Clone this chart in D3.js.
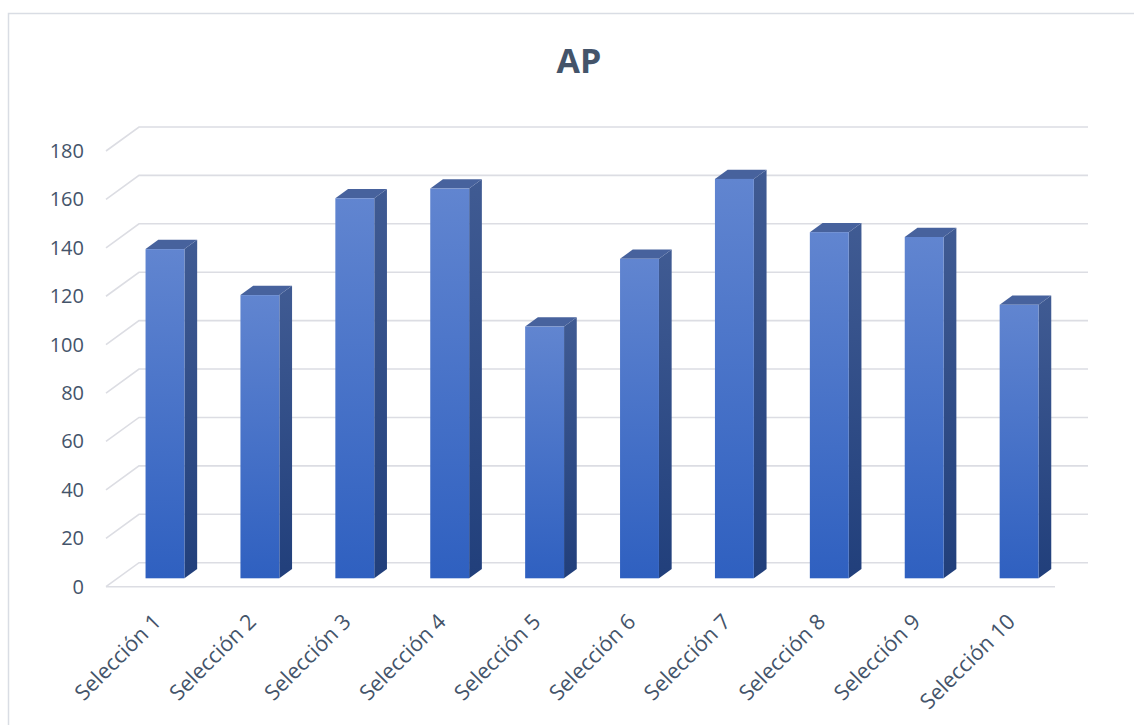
<!DOCTYPE html>
<html>
<head>
<meta charset="utf-8">
<script src="https://cdn.jsdelivr.net/npm/d3@7"></script>
<style>
	body { margin: 0; background: #fff; }
	svg { display: block; }
	text { font-family: "Open Sans", "Noto Sans", sans-serif; fill: #44546a; }
</style>
</head>
<body>
<svg id="chart" width="1134" height="725"></svg>
<script>
const categories = ["Selección 1", "Selección 2", "Selección 3", "Selección 4", "Selección 5",
	"Selección 6", "Selección 7", "Selección 8", "Selección 9", "Selección 10"];
const values = [136, 117, 157, 161, 104, 132, 165, 143, 141, 113];
const yTicks = [0, 20, 40, 60, 80, 100, 120, 140, 160, 180];
const chartTitle = "AP";

const svg = d3.select("#chart");

// depth of the floor (oblique projection)
const DX = 33, DY = -24;
// where the bars sit in the depth
const f0 = 0.35, f1 = 0.735;

const x = d3.scaleBand()
	.domain(categories)
	.range([106, 1055])
	.paddingInner(0.59)
	.paddingOuter(0.295);

const y = d3.scaleLinear()
	.domain([0, 180])
	.range([586.7, 151]);

// outer frame
svg.append("rect")
	.attr("x", 8.5).attr("y", 13.5)
	.attr("width", 1140).attr("height", 730)
	.attr("fill", "none")
	.attr("stroke", "#d9dde4")
	.attr("stroke-width", 1.5);

// title
svg.append("text")
	.attr("x", 579).attr("y", 73)
	.attr("text-anchor", "middle")
	.style("font-size", "34px")
	.style("font-weight", "bold")
	.text(chartTitle);

// gridlines: side diagonal + back wall
const grid = svg.append("g").attr("class", "grid");
const x0 = x.range()[0], x1 = x.range()[1];
yTicks.forEach(t => {
	grid.append("path")
		.attr("d", `M${x0},${y(t)} L${x0 + DX},${y(t) + DY} L${x1 + DX},${y(t) + DY}`)
		.attr("fill", "none")
		.attr("stroke", "#dcdde3")
		.attr("stroke-width", 1.6);
});
// front floor edge
grid.append("line")
	.attr("x1", x0).attr("x2", x1)
	.attr("y1", y(0)).attr("y2", y(0))
	.attr("stroke", "#dcdde3")
	.attr("stroke-width", 1.6);

// y axis labels
svg.append("g")
	.selectAll("text")
	.data(yTicks)
	.enter()
	.append("text")
	.attr("x", 84)
	.attr("y", d => y(d) + 7)
	.attr("text-anchor", "end")
	.style("font-size", "20px")
	.text(d => d);

// gradients
const defs = svg.append("defs");
function vGrad(id, top, bottom) {
	const g = defs.append("linearGradient")
		.attr("id", id)
		.attr("x1", "0%").attr("y1", "0%")
		.attr("x2", "0%").attr("y2", "100%");
	g.append("stop").attr("offset", "0%").attr("stop-color", top);
	g.append("stop").attr("offset", "100%").attr("stop-color", bottom);
}
vGrad("front-grad", "#6185d0", "#2f60c0");
vGrad("side-grad", "#405b93", "#213f7b");

// bars
const bars = svg.append("g").attr("class", "bars")
	.selectAll("g")
	.data(categories.map((c, i) => ({ cat: c, val: values[i] })))
	.enter()
	.append("g");

const ax = f0 * DX, ay = f0 * DY, bx = f1 * DX, by = f1 * DY;

bars.append("path")
	.attr("d", d => {
		const l = x(d.cat), r = l + x.bandwidth(), t = y(d.val), b = y(0);
		return `M${r + ax},${t + ay} L${r + bx},${t + by} L${r + bx},${b + by} L${r + ax},${b + ay} Z`;
	})
	.attr("fill", "url(#side-grad)");

bars.append("path")
	.attr("d", d => {
		const l = x(d.cat), r = l + x.bandwidth(), t = y(d.val);
		return `M${l + ax},${t + ay} L${r + ax},${t + ay} L${r + bx},${t + by} L${l + bx},${t + by} Z`;
	})
	.attr("fill", "#47629d");

bars.append("rect")
	.attr("x", d => x(d.cat) + ax)
	.attr("y", d => y(d.val) + ay)
	.attr("width", x.bandwidth())
	.attr("height", d => y(0) - y(d.val))
	.attr("fill", "url(#front-grad)");

// category labels, rotated
svg.append("g")
	.selectAll("text")
	.data(categories)
	.enter()
	.append("text")
	.attr("text-anchor", "end")
	.attr("transform", d => `translate(${x(d) + x.bandwidth() / 2 + 9},${623}) rotate(-45)`)
	.style("font-size", "21.5px")
	.text(d => d);
</script>
</body>
</html>
